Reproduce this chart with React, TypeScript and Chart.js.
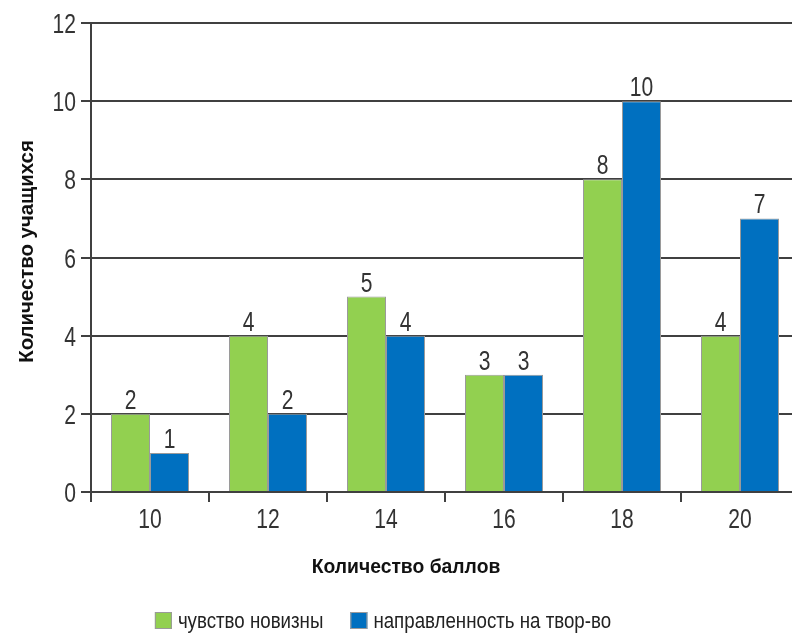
import React, { useEffect, useRef } from "react";
import { Chart, registerables } from "chart.js";

Chart.register(...registerables);

const categories = ["10", "12", "14", "16", "18", "20"];
const noveltyValues = [2, 4, 5, 3, 8, 4];
const creativityValues = [1, 2, 4, 3, 10, 7];
const seriesNames = ["чувство новизны", "направленность на твор-во"];
const seriesColors = ["#92D050", "#0070C0"];
const yMin = 0;
const yMax = 12;
const yStep = 2;
const yTitle = "Количество учащихся";
const xTitle = "Количество баллов";

const FONT = "'Liberation Sans Narrow', 'Arial Narrow', 'Liberation Sans', Arial, sans-serif";

function drawNarrow(
  ctx: CanvasRenderingContext2D,
  text: string,
  x: number,
  y: number,
  sx: number,
  align: CanvasTextAlign,
  rotation = 0
) {
  ctx.save();
  ctx.translate(x, y);
  if (rotation) ctx.rotate(rotation);
  ctx.scale(sx, 1);
  ctx.textAlign = align;
  ctx.textBaseline = "alphabetic";
  ctx.fillText(text, 0, 0);
  ctx.restore();
}

const extrasPlugin = {
  id: "extras",
  afterDatasetsDraw(chart: any) {
    const ctx = chart.ctx as CanvasRenderingContext2D;
    ctx.save();
    ctx.font = `27px ${FONT}`;
    ctx.fillStyle = "#333";
    chart.data.datasets.forEach((ds: any, i: number) => {
      const meta = chart.getDatasetMeta(i);
      meta.data.forEach((el: any, j: number) => {
        drawNarrow(ctx, String(ds.data[j]), el.x, el.y - 5, 0.78, "center");
      });
    });
    ctx.restore();
  },
  afterDraw(chart: any) {
    const ctx = chart.ctx as CanvasRenderingContext2D;
    const { left, top, bottom } = chart.chartArea;
    const xs = chart.scales.x;
    const ys = chart.scales.y;
    ctx.save();

    // tick labels from the library's scales
    ctx.font = `27px ${FONT}`;
    ctx.fillStyle = "#333";
    ys.ticks.forEach((t: any, i: number) => {
      const py = ys.getPixelForTick(i);
      drawNarrow(ctx, String(t.label), ys.right - 15, py + 10, 0.78, "right");
    });
    xs.ticks.forEach((t: any, i: number) => {
      const px = xs.getPixelForTick(i);
      drawNarrow(ctx, String(t.label), px, xs.top + 36, 0.78, "center");
    });

    // y axis title
    ctx.font = `bold 21px ${FONT}`;
    ctx.fillStyle = "#111";
    drawNarrow(ctx, yTitle, 33, (top + bottom) / 2 - 6, 0.97, "center", -Math.PI / 2);

    // x axis title
    drawNarrow(ctx, xTitle, left + 315, 573, 0.92, "center");

    // legend
    ctx.font = `22px ${FONT}`;
    const sx = 0.85;
    const box = 17;
    const gap = 6;
    const spacing = 27;
    const widths = seriesNames.map((n) => box + gap + ctx.measureText(n).width * sx);
    const total = widths.reduce((a, b) => a + b, 0) + spacing * (widths.length - 1);
    let x = left + 292 - total / 2;
    seriesNames.forEach((n, i) => {
      ctx.fillStyle = seriesColors[i];
      ctx.fillRect(x, 612, box, box);
      ctx.strokeStyle = "#9a9a9a";
      ctx.lineWidth = 1;
      ctx.strokeRect(x + 0.5, 612.5, box - 1, box - 1);
      ctx.fillStyle = "#222";
      drawNarrow(ctx, n, x + box + gap, 628, sx, "left");
      x += widths[i] + spacing;
    });
    ctx.restore();
  },
};

export default function App() {
  const ref = useRef<HTMLCanvasElement | null>(null);

  useEffect(() => {
    if (!ref.current) return;
    const chart = new Chart(ref.current, {
      type: "bar",
      data: {
        labels: categories,
        datasets: [
          {
            label: seriesNames[0],
            data: noveltyValues,
            backgroundColor: seriesColors[0],
            borderColor: "#9a9a9a",
            borderWidth: 1,
          },
          {
            label: seriesNames[1],
            data: creativityValues,
            backgroundColor: seriesColors[1],
            borderColor: "#9a9a9a",
            borderWidth: 1,
          },
        ],
      },
      options: {
        responsive: false,
        animation: false,
        devicePixelRatio: 1,
        layout: { padding: { top: 23, right: 11, bottom: 0, left: 0 } },
        datasets: { bar: { categoryPercentage: 0.661, barPercentage: 1 } },
        plugins: {
          legend: { display: false },
          tooltip: { enabled: false },
        },
        scales: {
          x: {
            grid: {
              offset: true,
              drawOnChartArea: false,
              drawTicks: true,
              tickLength: 10,
              color: "#404040",
              lineWidth: 2,
            },
            border: { display: true, color: "#404040", width: 2 },
            ticks: {
              display: false,
              maxRotation: 0,
            },
            afterFit: (scale: any) => {
              scale.height = 143;
            },
          },
          y: {
            min: yMin,
            max: yMax,
            grid: {
              color: "#404040",
              lineWidth: 2,
              tickLength: 10,
              drawTicks: true,
            },
            border: { display: true, color: "#404040", width: 2 },
            ticks: {
              display: false,
              stepSize: yStep,
            },
            title: { display: false, text: yTitle },
            afterFit: (scale: any) => {
              scale.width = 91;
            },
          },
        },
      },
      plugins: [extrasPlugin],
    });
    return () => chart.destroy();
  }, []);

  return (
    <div
      style={{
        position: "absolute",
        left: 0,
        top: 0,
        width: 792,
        height: 635,
        overflow: "hidden",
        background: "#fff",
      }}
    >
      <canvas ref={ref} width={810} height={635} style={{ display: "block" }} />
    </div>
  );
}
